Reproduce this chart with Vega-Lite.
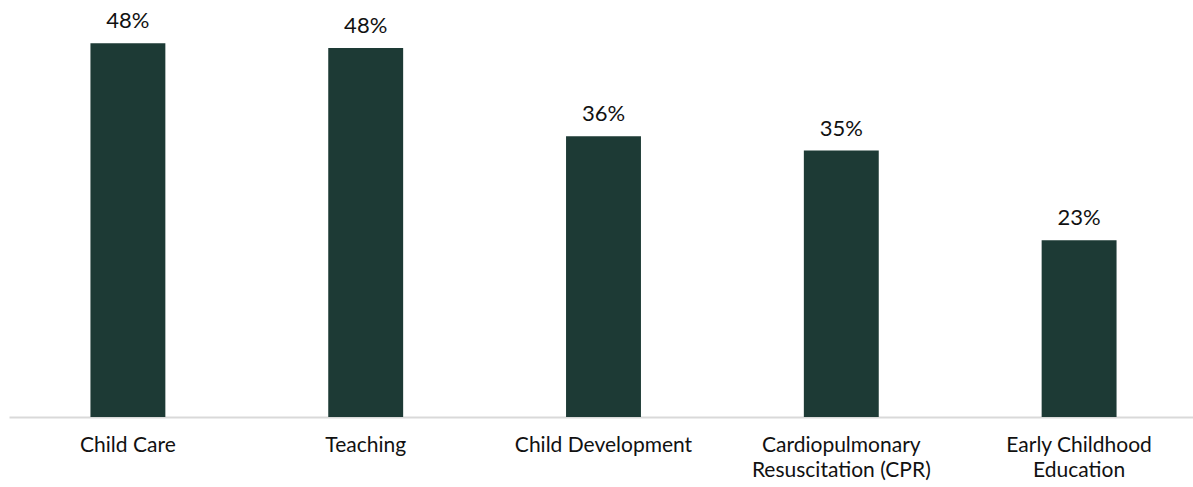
{
  "$schema": "https://vega.github.io/schema/vega-lite/v6.json",
  "width": 1189,
  "height": 417,
  "autosize": {"type": "none"},
  "padding": {"left": 9, "top": 0, "right": 0, "bottom": 70},
  "background": "white",
  "data": {
    "values": [
      {"skill": "Child Care", "pct": 48.4, "label": "48%"},
      {"skill": "Teaching", "pct": 47.8, "label": "48%"},
      {"skill": "Child Development", "pct": 36.35, "label": "36%"},
      {"skill": "Cardiopulmonary Resuscitation (CPR)", "pct": 34.5, "label": "35%"},
      {"skill": "Early Childhood Education", "pct": 22.9, "label": "23%"}
    ]
  },
  "encoding": {
    "x": {
      "field": "skill",
      "type": "nominal",
      "sort": null,
      "scale": {"paddingInner": 0.685, "paddingOuter": 0.3425},
      "axis": {
        "title": null,
        "labelAngle": 0,
        "ticks": false,
        "domainColor": "#d9d9d9",
        "domainWidth": 2,
        "labelFont": "Lato",
        "labelFontSize": 21,
        "labelColor": "#111111",
        "labelPadding": 17,
        "labelLineHeight": 25,
        "labelExpr": "datum.value == 'Cardiopulmonary Resuscitation (CPR)' ? ['Cardiopulmonary', 'Resuscitation (CPR)'] : datum.value == 'Early Childhood Education' ? ['Early Childhood', 'Education'] : datum.value"
      }
    },
    "y": {
      "field": "pct",
      "type": "quantitative",
      "scale": {"domain": [0, 54], "nice": false, "zero": true},
      "axis": null
    }
  },
  "layer": [
    {"mark": {"type": "bar", "color": "#1d3a35"}},
    {
      "mark": {"type": "text", "dy": -15, "baseline": "alphabetic", "font": "Lato", "fontSize": 22, "color": "#111111"},
      "encoding": {"text": {"field": "label"}}
    }
  ],
  "config": {
    "view": {"stroke": null},
    "axis": {"grid": false}
  }
}
